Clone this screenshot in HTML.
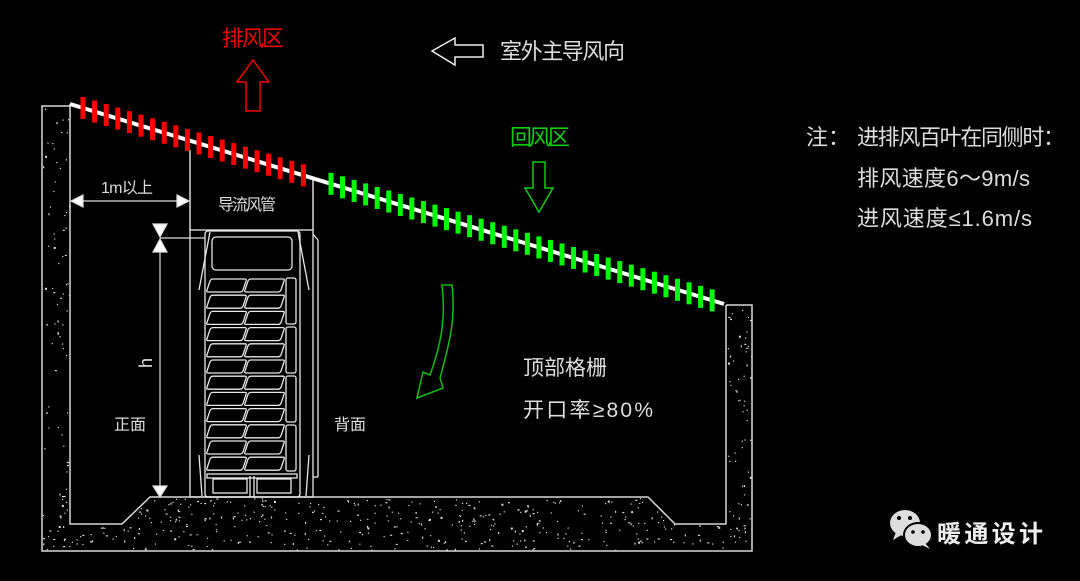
<!DOCTYPE html>
<html><head><meta charset="utf-8"><style>
html,body{margin:0;padding:0;background:#000;width:1080px;height:581px;overflow:hidden}
svg{display:block}
text{font-family:"Liberation Sans","Noto Sans CJK SC",sans-serif}
</style></head><body>
<svg id="s" width="1080" height="581" viewBox="0 0 1080 581" xmlns="http://www.w3.org/2000/svg">
<rect width="1080" height="581" fill="#000"/>
<g id="conc" fill="#ddd"></g>
<g fill="none" stroke="#d8d8d8" stroke-width="1.5">
<polyline points="70,106 42,106 42,551 752,551 752,305 726,305"/>
<polyline points="70,104 70,524 122,524 150,497 648,497 675,524 726,524 726,305"/>
<line x1="190" y1="150" x2="190" y2="230"/>
<line x1="313" y1="178" x2="313" y2="230"/>
</g>
<line x1="70" y1="104" x2="724" y2="304" stroke="#fff" stroke-width="4"/>
<g id="ticks"></g>
<g stroke="#ddd" stroke-width="1.2" fill="#fff">
<line x1="72" y1="201" x2="188" y2="201"/>
<polygon points="71,201 83,195 83,207"/>
<polygon points="189,201 177,195 177,207"/>
<line x1="160" y1="240" x2="160" y2="487"/>
<line x1="160" y1="238" x2="205" y2="238" />
<polygon points="153,224 167,224 160,237"/>
<polygon points="153,252 167,252 160,239"/>
<polygon points="153,486 167,486 160,497"/>
</g>
<g fill="none" stroke="#e8e8e8" stroke-width="1.3" id="unit">
<rect x="190" y="230" width="123" height="267"/>
<rect x="205" y="231" width="95" height="266" rx="3"/>
<rect x="212" y="237" width="80" height="33" rx="4"/>
<line x1="210" y1="232" x2="199" y2="290"/>
<line x1="298" y1="232" x2="309" y2="290"/>
<line x1="199" y1="455" x2="202" y2="496"/>
<line x1="309" y1="455" x2="306" y2="496"/>
<line x1="313" y1="234" x2="318" y2="240"/>
<line x1="318" y1="240" x2="318" y2="477"/>
<line x1="318" y1="477" x2="313" y2="477"/>
<rect x="286" y="278" width="10" height="46" rx="2"/>
<rect x="286" y="327" width="10" height="46" rx="2"/>
<rect x="286" y="376" width="10" height="46" rx="2"/>
<rect x="286" y="425" width="10" height="46" rx="2"/>
<rect x="207" y="474" width="90" height="4"/>
<rect x="213" y="479" width="34" height="14"/>
<rect x="257" y="479" width="34" height="14"/>
<line x1="250" y1="476" x2="250" y2="497"/>
<line x1="254" y1="476" x2="254" y2="497"/>
</g>
<polygon points="253,60 269,82 260,82 260,111 246,111 246,82 237,82" fill="none" stroke="#e00" stroke-width="1.5"/>
<polygon points="432,51 455,38 455,45 483,45 483,57 455,57 455,65" fill="none" stroke="#eee" stroke-width="1.5"/>
<polygon points="533,162 545,162 545,188 553,188 539,212 525,188 533,188" fill="none" stroke="#1c1" stroke-width="1.5"/>
<path d="M442,285 L452,285 C456,320 449,345 440,378 L443,388 L417,398 L423,372 L430,375 C441,345 446,318 442,285 Z" fill="none" stroke="#1b1" stroke-width="1.5"/>
<text x="222" y="46" font-size="22" fill="#e00" textLength="62">排风区</text>
<text x="500" y="59" font-size="22" fill="#ddd" textLength="125">室外主导风向</text>
<text x="510" y="145" font-size="22" fill="#1c1" textLength="60">回风区</text>
<text x="101" y="193" font-size="16" fill="#ddd" textLength="52">1m以上</text>
<text x="218" y="210" font-size="16" fill="#ddd" textLength="58">导流风管</text>
<text x="0" y="0" font-size="18" fill="#ddd" transform="translate(152,368) rotate(-90)">h</text>
<text x="114" y="430" font-size="16" fill="#ddd">正面</text>
<text x="334" y="430" font-size="16" fill="#ddd">背面</text>
<text x="523" y="375" font-size="21" fill="#ddd" textLength="84">顶部格栅</text>
<text x="523" y="417" font-size="21" fill="#ddd" textLength="130">开口率≥80%</text>
<text x="806" y="145" font-size="22" fill="#ddd">注：</text>
<text x="857" y="145" font-size="22" fill="#ddd" textLength="208">进排风百叶在同侧时：</text>
<text x="857" y="186" font-size="22" fill="#ddd" textLength="173">排风速度6～9m/s</text>
<text x="857" y="226" font-size="22" fill="#ddd" textLength="175">进风速度≤1.6m/s</text>
<g fill="#ddd">
<ellipse cx="905" cy="523" rx="15" ry="13"/>
<polygon points="896,532 893,540 903,534"/>
<ellipse cx="918" cy="535" rx="14" ry="12" stroke="#000" stroke-width="2"/>
<polygon points="925,543 930,549 922,545"/>
</g>
<g fill="#000"><circle cx="899" cy="518" r="2"/><circle cx="910" cy="518" r="2"/><circle cx="913" cy="532" r="1.8"/><circle cx="923" cy="532" r="1.8"/></g>
<text x="937" y="542" font-size="24" fill="#eee" font-weight="bold" textLength="106">暖通设计</text>
</svg>
<script>
var NS="http://www.w3.org/2000/svg";
function el(p,t,a){var e=document.createElementNS(NS,t);for(var k in a)e.setAttribute(k,a[k]);p.appendChild(e);return e;}
var tk=document.getElementById("ticks");
function yAt(x){return 104+(x-70)*200/654;}
for(var x=83;x<=306;x+=11.6){el(tk,"rect",{x:x-2.5,y:yAt(x)-11,width:5,height:22,fill:"#f00"});}
for(var x=331;x<=722;x+=11.55){el(tk,"rect",{x:x-2.5,y:yAt(x)-11,width:5,height:22,fill:"#0f0"});}
var u=document.getElementById("unit");
for(var i=0;i<12;i++){var y=279+i*16.2;
el(u,"path",{d:"M213,"+y+" h32 q2,0 1,2 l-3,9 q-1,2 -3,2 h-32 q-2,0 -1,-2 l3,-9 q1,-2 3,-2 z"});
el(u,"path",{d:"M251,"+y+" h32 q2,0 1,2 l-3,9 q-1,2 -3,2 h-32 q-2,0 -1,-2 l3,-9 q1,-2 3,-2 z"});}
var c=document.getElementById("conc");
var seed=7;function r(){seed=(seed*16807)%2147483647;return seed/2147483647;}
function fill(x0,y0,w,h,n,test){for(var i=0;i<n;i++){var x=x0+r()*w,y=y0+r()*h;if(test&&!test(x,y))continue;el(c,"rect",{x:x,y:y,width:r()<0.2?2:1.2,height:r()<0.2?2:1.2});}}
fill(43,108,26,442,80);
fill(727,306,24,244,60);
fill(43,525,708,25,200);
fill(70,498,660,27,260,function(x,y){if(x<150)return y>524-(x-122)*(27/28)&&x>122||false;if(x>648)return y>497+(x-648)&&x<675;return true;});
</script>
</body></html>
